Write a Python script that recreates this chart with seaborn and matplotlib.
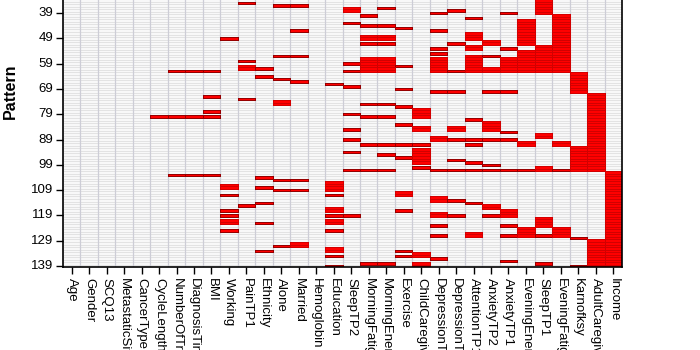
import numpy as np
import pandas as pd
import seaborn as sns
import matplotlib.pyplot as plt
from matplotlib.colors import ListedColormap, to_rgba

# =============================================================================
# Data: missing value patterns (only patterns 34-139 are in view)
# =============================================================================

patterns = list(range(34, 140))

variables = [
    "Age", "Gender", "SCQ13", "MetastaticSites", "CancerType", "CycleLength",
    "NumberOfTreatments", "DiagnosisTime", "BMI", "Working", "PainTP1",
    "Ethnicity", "Alone", "Married", "Hemoglobin", "Education", "SleepTP2",
    "MorningFatigueTP2", "MorningEnergyTP2", "Exercise", "ChildCaregiver",
    "DepressionTP2", "DepressionTP1", "AttentionTP1", "AnxietyTP2",
    "AnxietyTP1", "EveningEnergyTP1", "SleepTP1", "EveningFatigueTP1",
    "Karnofksy", "AdultCaregiver", "Income",
]

# missing pattern numbers per variable, (first, last) = run of patterns
missing_spans = [
    [],                                                        # Age
    [],                                                        # Gender
    [],                                                        # SCQ13
    [],                                                        # MetastaticSites
    [],                                                        # CancerType
    [80],                                                      # CycleLength
    [62, 80, 103],                                             # NumberOfTreatments
    [62, 80, 103],                                             # DiagnosisTime
    [62, 72, 78, 80, 103],                                     # BMI
    [49, (107, 108), 111, 117, 119, (121, 122), 125],          # Working
    [35, 58, (60, 61), 73, 115],                               # PainTP1
    [61, 64, 104, 108, 114, 122, 133],                         # Ethnicity
    [36, 56, 65, (74, 75), 105, 109, 131],                     # Alone
    [36, 46, 56, 66, 105, 109, (130, 131)],                    # Married
    [],                                                        # Hemoglobin
    [67, (106, 109), 111, (116, 117), 119, (121, 122), 125,
     (132, 133), 135, 139],                                    # Education
    [(37, 38), 43, 59, 62, 68, 79, 85, 89, 94, 101, 119],      # SleepTP2
    [40, 44, (48, 49), 51, (57, 62), 75, 80, 91, 101, 138],    # MorningFatigue
    [37, 44, (48, 49), 51, (57, 62), 75, 80, 91, 95, 101, 138],  # MorningEnergy
    [45, 60, 69, 76, 83, 91, 96, (110, 111), 117, 133, 135],   # Exercise
    [(77, 80), (84, 85), 91, (93, 98), 100, (134, 135),
     (138, 139)],                                              # ChildCaregiver
    [39, 46, 53, 55, (57, 62), 70, (88, 89), 101, (112, 113),
     (118, 119), 123, 127, 136],                               # DepressionTP2
    [38, 51, 62, 70, (84, 85), 89, 97, 101, 113, 119],         # DepressionTP1
    [41, (47, 49), (52, 53), (56, 62), 81, 89, 91, 98, 101,
     114, (126, 127)],                                         # AttentionTP1
    [(50, 51), 56, (61, 62), 70, (82, 85), 89, 99, 101,
     (115, 116), 119],                                         # AnxietyTP2
    [39, 53, (57, 62), 70, 86, 89, 101, (117, 119), 123, 127,
     137],                                                     # AnxietyTP1
    [(42, 51), (54, 62), (90, 91), 101, (124, 127)],           # EveningEnergy
    [(34, 39), (52, 62), (87, 88), (100, 101), (120, 123), 127,
     138],                                                     # SleepTP1
    [(40, 62), (90, 91), 101, (124, 127)],                     # EveningFatigue
    [(63, 70), (92, 101), 128, 139],                           # Karnofksy
    [(71, 101), (129, 139)],                                   # AdultCaregiver
    [(102, 139)],                                              # Income
]

ytick_patterns = [39, 49, 59, 69, 79, 89, 99, 109, 119, 129, 139]

# =============================================================================
# Build matrix
# =============================================================================

miss = pd.DataFrame(False, index=patterns, columns=variables)
for var, spans in zip(variables, missing_spans):
    for s in spans:
        lo, hi = (s, s) if isinstance(s, int) else s
        miss.loc[lo:hi, var] = True

# single-pattern cells get a dark outline, cells inside runs a soft one
m = miss.values
above = np.vstack([np.zeros((1, m.shape[1]), bool), m[:-1]])
below = np.vstack([m[1:], np.zeros((1, m.shape[1]), bool)])
single = m & ~above & ~below

# =============================================================================
# Plot
# =============================================================================

plt.rcParams["font.family"] = ["Liberation Sans", "DejaVu Sans"]

fig = plt.figure(figsize=(7, 3.5), dpi=100)
ax = fig.add_axes([63 / 700, 82.7 / 350, 559 / 700, 268.2 / 350])

# background cells with faint row lines
sns.heatmap(
    np.zeros(miss.shape),
    cmap=ListedColormap(["#F8F8F8"]),
    vmin=0, vmax=1,
    linewidths=0.5,
    linecolor="#E3E3E3",
    cbar=False,
    ax=ax,
)

# missing cells
sns.heatmap(
    miss.astype(float),
    mask=~m,
    cmap=ListedColormap(["#FF0000"]),
    vmin=0, vmax=1,
    linewidths=0.5,
    linecolor="#D00000",
    cbar=False,
    ax=ax,
)
mesh = ax.collections[-1]
edge = []
for is_miss, is_single in zip(m.ravel(), single.ravel()):
    if not is_miss:
        edge.append((0, 0, 0, 0))
    elif is_single:
        edge.append(to_rgba("#960000"))
    else:
        edge.append(to_rgba("#D20000"))
mesh.set_edgecolor(np.array(edge))
mesh.set_zorder(2)

# column separators
ax.set_xticks(np.arange(1, len(variables)), minor=True)
ax.grid(which="minor", axis="x", color="#CDCDD6", linewidth=0.9)
ax.tick_params(axis="x", which="minor", length=0)

ax.set_xticks(np.arange(len(variables)) + 0.5)
ax.set_xticklabels(variables, rotation=-90, ha="center", va="top", fontsize=9.5)
ax.set_yticks([patterns.index(p) + 0.5 for p in ytick_patterns])
ax.set_yticklabels([str(p) for p in ytick_patterns], rotation=0,
                   fontsize=9.5, family=["Liberation Sans Narrow", "Liberation Sans"])
ax.tick_params(axis="both", which="major", direction="out", length=5,
               width=1, color="black", labelcolor="black")
ax.tick_params(axis="x", which="major", pad=3)
ax.tick_params(axis="y", which="major", pad=2)
ax.set_xlabel("")
ax.set_ylabel("")

for side in ["left", "bottom", "right"]:
    ax.spines[side].set_visible(True)
    ax.spines[side].set_color("black")
    ax.spines[side].set_linewidth(1.2)
ax.spines["top"].set_visible(False)

fig.text(10 / 700, 1 - 91 / 350, "Pattern", rotation=90, ha="center",
         va="center", fontsize=11.5, fontweight="bold")

fig.savefig("out.png", dpi=100)
